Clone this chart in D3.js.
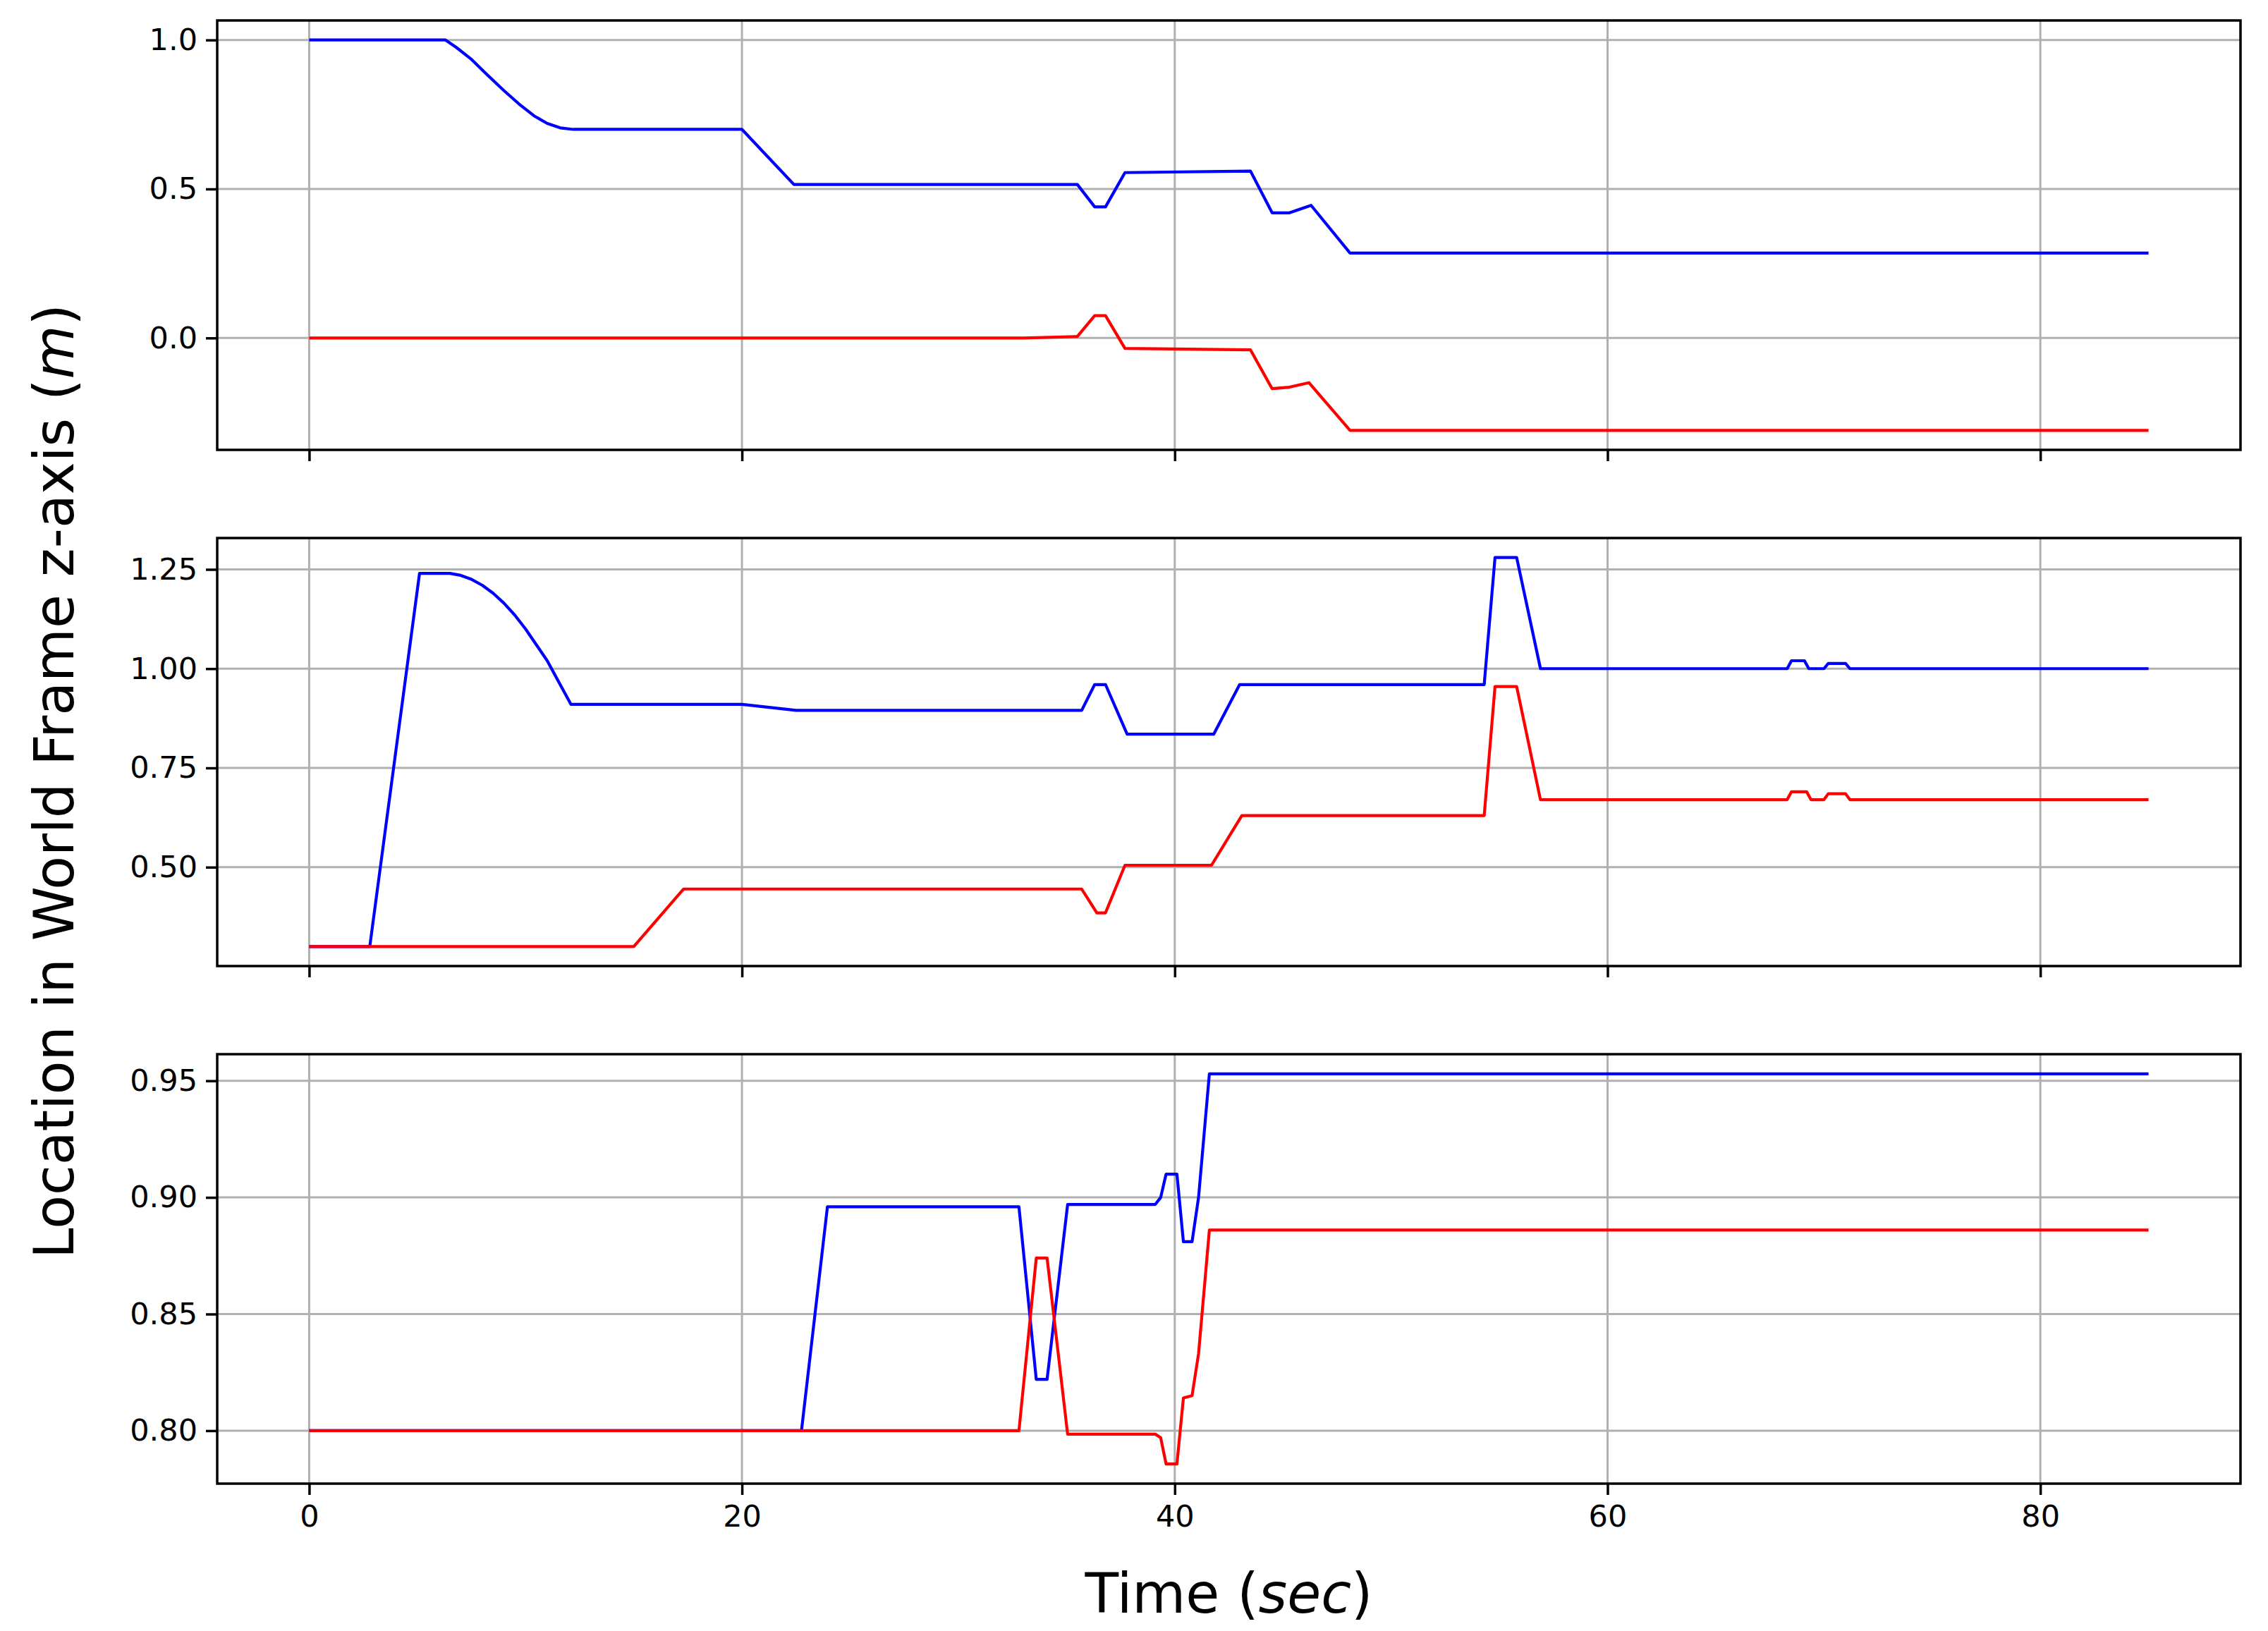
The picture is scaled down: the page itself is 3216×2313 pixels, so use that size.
<!DOCTYPE html>
<html><head><meta charset="utf-8">
<script src="https://cdn.jsdelivr.net/npm/d3@7"></script>
<style>body{margin:0;background:#fff}svg{display:block}text{font-family:"DejaVu Sans",sans-serif}</style>
</head><body><svg id="c" width="3216" height="2313"></svg>
<script>
const xTicks = [0, 20, 40, 60, 80];
const p1Ticks = [0.0, 0.5, 1.0];
const p2Ticks = [0.50, 0.75, 1.00, 1.25];
const p3Ticks = [0.80, 0.85, 0.90, 0.95];

const p1Blue = [[0,1.0],[6.3,1.0],[6.8,0.975],[7.5,0.935],[8.2,0.885],[9,0.83],[9.7,0.785],[10.4,0.745],[11,0.72],[11.6,0.705],[12.2,0.70],[20,0.70],[22.4,0.515],[33,0.515],[35.5,0.515],[36.3,0.44],[36.8,0.44],[37.7,0.555],[43.5,0.56],[44.5,0.42],[45.3,0.42],[46.3,0.445],[48.1,0.285],[85,0.285]];
const p1Red = [[0,0.0],[33,0.0],[35.5,0.005],[36.3,0.075],[36.8,0.075],[37.7,-0.035],[43.5,-0.04],[44.5,-0.17],[45.3,-0.165],[46.2,-0.15],[48.1,-0.31],[85,-0.31]];
const p2Blue = [[0,0.30],[2.8,0.30],[5.1,1.24],[6.5,1.24],[7,1.235],[7.5,1.225],[8,1.21],[8.5,1.19],[9,1.165],[9.5,1.135],[10,1.10],[10.5,1.06],[11,1.02],[11.5,0.97],[12.1,0.91],[20,0.91],[22.5,0.895],[35.7,0.895],[36.3,0.96],[36.8,0.96],[37.8,0.835],[41.8,0.835],[43,0.96],[54.3,0.96],[54.8,1.28],[55.8,1.28],[56.9,1.0],[68.3,1.0],[68.5,1.02],[69.1,1.02],[69.3,1.0],[70,1.0],[70.2,1.013],[71,1.013],[71.2,1.0],[85,1.0]];
const p2Red = [[0,0.30],[15,0.30],[17.3,0.445],[35.7,0.445],[36.4,0.385],[36.8,0.385],[37.7,0.505],[41.7,0.505],[43.1,0.63],[54.3,0.63],[54.8,0.955],[55.8,0.955],[56.9,0.67],[68.3,0.67],[68.5,0.69],[69.2,0.69],[69.4,0.67],[70,0.67],[70.2,0.685],[71,0.685],[71.2,0.67],[85,0.67]];
const p3Blue = [[0,0.80],[22.75,0.80],[23.95,0.896],[32.8,0.896],[33.6,0.822],[34.1,0.822],[35.05,0.897],[39.1,0.897],[39.35,0.9],[39.6,0.91],[40.1,0.91],[40.4,0.881],[40.8,0.881],[41.1,0.9],[41.6,0.953],[85,0.953]];
const p3Red = [[0,0.80],[32.8,0.80],[33.6,0.874],[34.1,0.874],[35.05,0.7985],[39.1,0.7985],[39.35,0.797],[39.6,0.7857],[40.1,0.7857],[40.4,0.814],[40.8,0.815],[41.1,0.833],[41.6,0.886],[85,0.886]];

const svg = d3.select("#c");
const L = 308, R = 3177;
const x = d3.scaleLinear().domain([-4.25, 89.25]).range([L, R]);
const panels = [
  {top:29, bot:638, dom:[-0.3755,1.0655], ticks:p1Ticks, fmt:d3.format(".1f"), blue:p1Blue, red:p1Red},
  {top:763, bot:1370, dom:[0.251,1.329], ticks:p2Ticks, fmt:d3.format(".2f"), blue:p2Blue, red:p2Red},
  {top:1495, bot:2104, dom:[0.7773,0.9614], ticks:p3Ticks, fmt:d3.format(".2f"), blue:p3Blue, red:p3Red}
];
panels.forEach((p,i)=>{
  const y = d3.scaleLinear().domain(p.dom).range([p.bot, p.top]);
  const g = svg.append("g");
  g.selectAll(".gx").data(xTicks).enter().append("line")
    .attr("x1",d=>x(d)).attr("x2",d=>x(d)).attr("y1",p.top).attr("y2",p.bot)
    .attr("stroke","#b0b0b0").attr("stroke-width",3);
  g.selectAll(".gy").data(p.ticks).enter().append("line")
    .attr("x1",L).attr("x2",R).attr("y1",d=>y(d)).attr("y2",d=>y(d))
    .attr("stroke","#b0b0b0").attr("stroke-width",3);
  const line = d3.line().x(d=>x(d[0])).y(d=>y(d[1]));
  g.append("path").datum(p.blue).attr("d",line).attr("fill","none").attr("stroke","#0000ff").attr("stroke-width",4.2).attr("stroke-linejoin","round");
  g.append("path").datum(p.red).attr("d",line).attr("fill","none").attr("stroke","#ff0000").attr("stroke-width",4.2).attr("stroke-linejoin","round");
  g.append("rect").attr("x",L).attr("y",p.top).attr("width",R-L).attr("height",p.bot-p.top)
    .attr("fill","none").attr("stroke","#000").attr("stroke-width",3.5);
  const ya = d3.axisLeft(y).tickValues(p.ticks).tickFormat(p.fmt).tickSize(16).tickPadding(12);
  const yg = g.append("g").attr("transform",`translate(${L},0)`).call(ya);
  const xa = d3.axisBottom(x).tickValues(xTicks).tickSize(16).tickPadding(14).tickFormat(i===2?d3.format("d"):()=> "");
  const xg = g.append("g").attr("transform",`translate(0,${p.bot})`).call(xa);
  [yg,xg].forEach(a=>{
    a.select(".domain").remove();
    a.selectAll(".tick line").attr("stroke","#000").attr("stroke-width",3.5);
    a.selectAll(".tick text").attr("font-size",43).attr("fill","#000").attr("font-family","DejaVu Sans");
  });
});
const xl = svg.append("text").attr("x",(L+R)/2).attr("y",2287).attr("text-anchor","middle").attr("font-size",78);
xl.append("tspan").text("Time (");
xl.append("tspan").attr("font-style","italic").text("sec");
xl.append("tspan").text(")");
const yl = svg.append("text").attr("transform","translate(104,1108) rotate(-90)").attr("text-anchor","middle").attr("font-size",78);
yl.append("tspan").text("Location in World Frame z-axis (");
yl.append("tspan").attr("font-style","italic").text("m");
yl.append("tspan").text(")");
</script></body></html>
